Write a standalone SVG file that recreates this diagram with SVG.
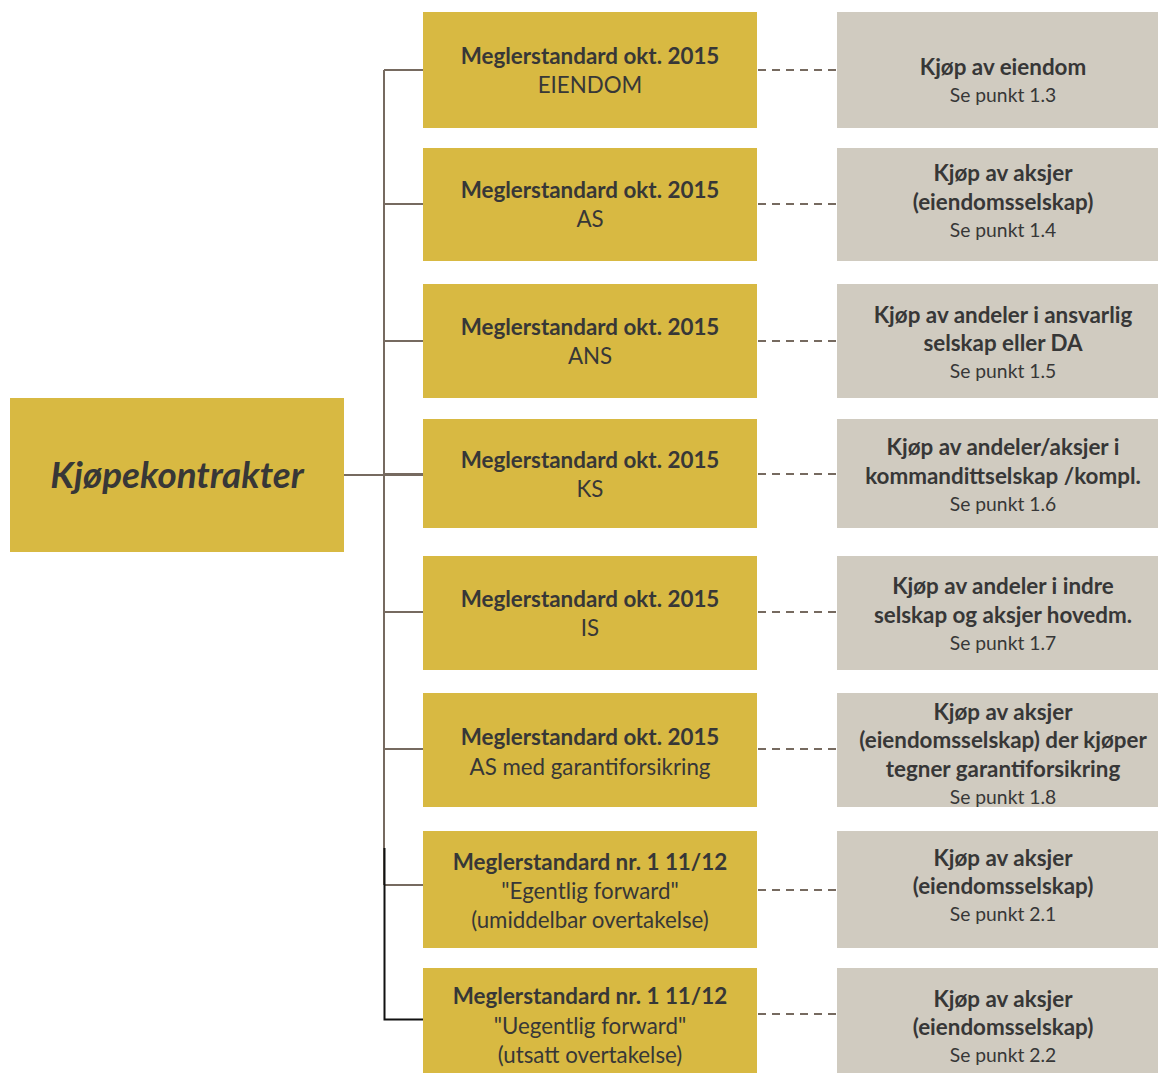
<svg xmlns="http://www.w3.org/2000/svg" width="1158" height="1074" viewBox="0 0 1158 1074">
<style>
.g{fill:#D8B942}
.r{fill:#D0CBC0}
text{font-family:Lato,"Liberation Sans",sans-serif;fill:#373737;text-anchor:middle}
.b{font-weight:bold;font-size:22.4px}
.n{font-size:22.3px}
.s{font-size:19.3px}
.c{stroke:#766a60;stroke-width:2;fill:none}
.d{stroke:#766a60;stroke-width:2;fill:none;stroke-dasharray:8 6}
</style>
<rect width="1158" height="1074" fill="#fff"/>
<g id="connectors">
<path class="c" d="M384 70V885M344 475H423M384 70H423M384 204H423M384 341H423M384 474H423M384 612H423M384 749H423M384 885H423"/>
<path d="M384.5 848V1019.5H423" stroke="#111" stroke-width="2" fill="none"/>
<path class="d" d="M758 70H837M758 204H837M758 341H837M758 474H837M758 612H837M758 749H837M758 890H837M758 1014H837"/>
</g>
<g id="root"><rect class="g" x="10" y="398" width="334" height="154"/><text x="177" y="488" style="font-weight:bold;font-style:italic;font-size:36.8px">Kjøpekontrakter</text></g>
<g id="m1"><rect class="g" x="423" y="12" width="334" height="116"/><text class="b" x="590" y="64">Meglerstandard okt. 2015</text><text class="n" x="590" y="93">EIENDOM</text></g>
<g id="m2"><rect class="g" x="423" y="148" width="334" height="113"/><text class="b" x="590" y="198">Meglerstandard okt. 2015</text><text class="n" x="590" y="227">AS</text></g>
<g id="m3"><rect class="g" x="423" y="284" width="334" height="114"/><text class="b" x="590" y="335">Meglerstandard okt. 2015</text><text class="n" x="590" y="364">ANS</text></g>
<g id="m4"><rect class="g" x="423" y="419" width="334" height="109"/><text class="b" x="590" y="468">Meglerstandard okt. 2015</text><text class="n" x="590" y="497">KS</text></g>
<g id="m5"><rect class="g" x="423" y="556" width="334" height="114"/><text class="b" x="590" y="607">Meglerstandard okt. 2015</text><text class="n" x="590" y="636">IS</text></g>
<g id="m6"><rect class="g" x="423" y="693" width="334" height="114"/><text class="b" x="590" y="745">Meglerstandard okt. 2015</text><text class="n" x="590" y="775">AS med garantiforsikring</text></g>
<g id="m7"><rect class="g" x="423" y="831" width="334" height="117"/><text class="b" x="590" y="870">Meglerstandard nr. 1 11/12</text><text class="n" x="590" y="899">"Egentlig forward"</text><text class="n" x="590" y="928">(umiddelbar overtakelse)</text></g>
<g id="m8"><rect class="g" x="423" y="968" width="334" height="105"/><text class="b" x="590" y="1004">Meglerstandard nr. 1 11/12</text><text class="n" x="590" y="1034">"Uegentlig forward"</text><text class="n" x="590" y="1063">(utsatt overtakelse)</text></g>
<g id="r1"><rect class="r" x="837" y="12" width="321" height="116"/><text class="b" x="1003" y="75">Kjøp av eiendom</text><text class="s" x="1003" y="102">Se punkt 1.3</text></g>
<g id="r2"><rect class="r" x="837" y="148" width="321" height="113"/><text class="b" x="1003" y="181">Kjøp av aksjer</text><text class="b" x="1003" y="210">(eiendomsselskap)</text><text class="s" x="1003" y="237">Se punkt 1.4</text></g>
<g id="r3"><rect class="r" x="837" y="284" width="321" height="114"/><text class="b" x="1003" y="323">Kjøp av andeler i ansvarlig</text><text class="b" x="1003" y="351">selskap eller DA</text><text class="s" x="1003" y="378">Se punkt 1.5</text></g>
<g id="r4"><rect class="r" x="837" y="419" width="321" height="109"/><text class="b" x="1003" y="455">Kjøp av andeler/aksjer i</text><text class="b" x="1003" y="484">kommandittselskap /kompl.</text><text class="s" x="1003" y="511">Se punkt 1.6</text></g>
<g id="r5"><rect class="r" x="837" y="556" width="321" height="114"/><text class="b" x="1003" y="594">Kjøp av andeler i indre</text><text class="b" x="1003" y="623">selskap og aksjer hovedm.</text><text class="s" x="1003" y="650">Se punkt 1.7</text></g>
<g id="r6"><rect class="r" x="837" y="693" width="321" height="114"/><text class="b" x="1003" y="720">Kjøp av aksjer</text><text class="b" x="1003" y="748">(eiendomsselskap) der kjøper</text><text class="b" x="1003" y="777">tegner garantiforsikring</text><text class="s" x="1003" y="804">Se punkt 1.8</text></g>
<g id="r7"><rect class="r" x="837" y="831" width="321" height="117"/><text class="b" x="1003" y="866">Kjøp av aksjer</text><text class="b" x="1003" y="894">(eiendomsselskap)</text><text class="s" x="1003" y="921">Se punkt 2.1</text></g>
<g id="r8"><rect class="r" x="837" y="968" width="321" height="105"/><text class="b" x="1003" y="1007">Kjøp av aksjer</text><text class="b" x="1003" y="1035">(eiendomsselskap)</text><text class="s" x="1003" y="1062">Se punkt 2.2</text></g>
</svg>
